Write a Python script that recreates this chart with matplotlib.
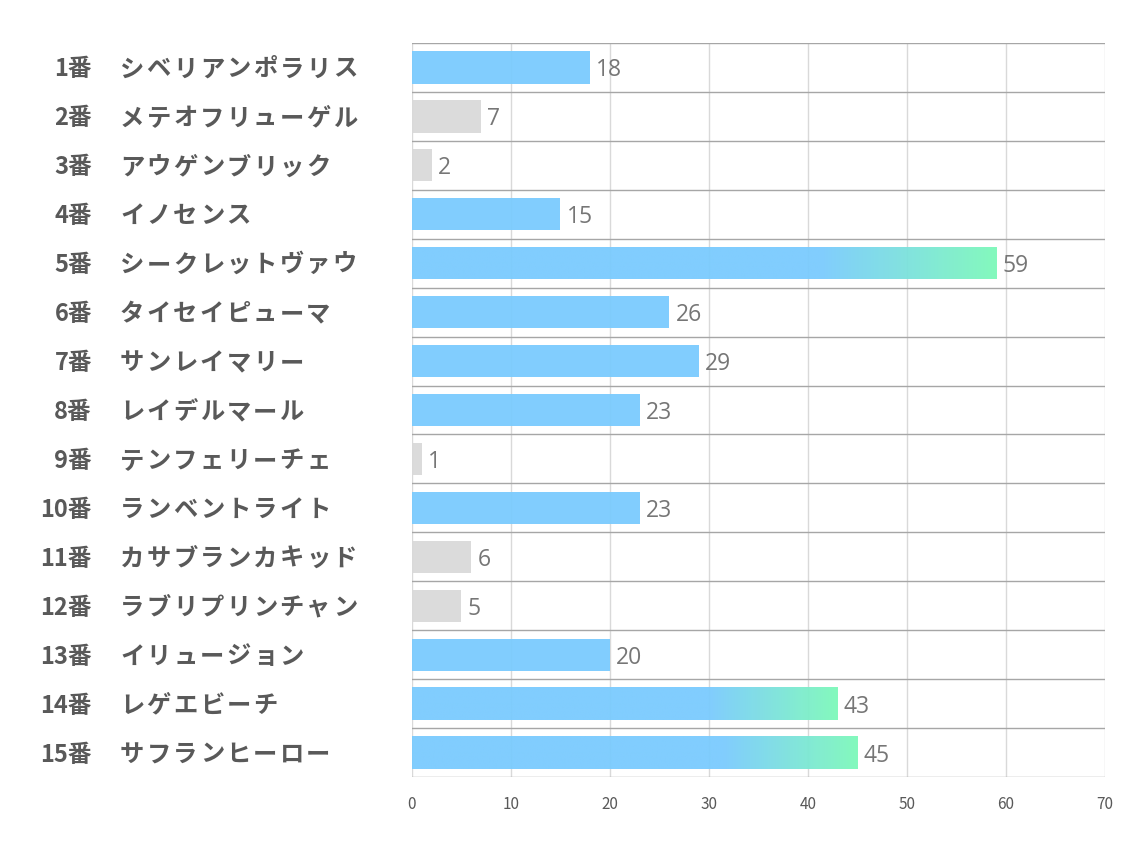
import matplotlib.pyplot as plt
import numpy as np
from matplotlib.colors import LinearSegmentedColormap

plt.rcParams['font.family'] = ['Noto Sans CJK JP', 'DejaVu Sans']

numbers = ['1番', '2番', '3番', '4番', '5番', '6番', '7番', '8番', '9番', '10番',
           '11番', '12番', '13番', '14番', '15番']
names = ['シベリアンポラリス', 'メテオフリューゲル', 'アウゲンブリック', 'イノセンス',
         'シークレットヴァウ', 'タイセイピューマ', 'サンレイマリー', 'レイデルマール',
         'テンフェリーチェ', 'ランベントライト', 'カサブランカキッド', 'ラブリプリンチャン',
         'イリュージョン', 'レゲエビーチ', 'サフランヒーロー']
values = [18, 7, 2, 15, 59, 26, 29, 23, 1, 23, 6, 5, 20, 43, 45]

blue = '#7ACBFE'
grey = '#D9D9D9'
green = '#7DF9BA'

fig = plt.figure(figsize=(11.34, 8.5), dpi=100)
ax = fig.add_axes([0.3633, 0.0859, 0.9744 - 0.3633, 0.9494 - 0.0859])

n = len(values)
ax.set_xlim(0, 70)
ax.set_ylim(n - 0.5, -0.5)

# grid
for xv in range(0, 71, 10):
    ax.axvline(xv, color='#D9D9D9', lw=1, zorder=0)
for b in np.arange(-0.5, n, 1):
    ax.axhline(b, color='#A6A6A6', lw=1, zorder=0)

cmap = LinearSegmentedColormap.from_list('bg', [(0, blue), (0.7, blue), (1, green)])
grad = np.linspace(0, 1, 256).reshape(1, -1)

h = 0.66
for i, v in enumerate(values):
    if v < 10:
        ax.barh(i, v, height=h, color=grey, alpha=0.95, zorder=2)
    elif v >= 40:
        bar = ax.barh(i, v, height=h, color='none', zorder=2)[0]
        im = ax.imshow(grad, cmap=cmap, aspect='auto', alpha=0.95, zorder=2,
                       extent=(0, v, i + h / 2, i - h / 2))
        im.set_clip_path(bar)
    else:
        ax.barh(i, v, height=h, color=blue, alpha=0.95, zorder=2)
    ax.annotate(str(v), (v, i), xytext=(6, -3), textcoords='offset pixels',
                va='center', ha='left', fontsize=16.5, color='#767676',
                family=['Open Sans', 'DejaVu Sans'])

ax.set_xlim(0, 70)
ax.set_ylim(n - 0.5, -0.5)

for s in ax.spines.values():
    s.set_visible(False)
ax.set_yticks([])
ax.set_xticks(range(0, 71, 10))
ax.tick_params(axis='x', length=0, pad=14, labelsize=11, labelcolor='#595959')

trans = ax.get_yaxis_transform()
for i in range(n):
    ax.annotate(numbers[i], (-0.4618, i), xycoords=trans, xytext=(0, -2),
                textcoords='offset pixels', ha='right', va='center',
                fontsize=17, fontweight='bold', color='#595959')
    for k, ch in enumerate(names[i]):
        ax.annotate(ch, (-0.4214, i), xycoords=trans, xytext=(k * 26.6, -2),
                    textcoords='offset pixels', ha='left', va='center',
                    fontsize=17.5, fontweight='bold', color='#595959')

fig.savefig('out.png', dpi=100)
